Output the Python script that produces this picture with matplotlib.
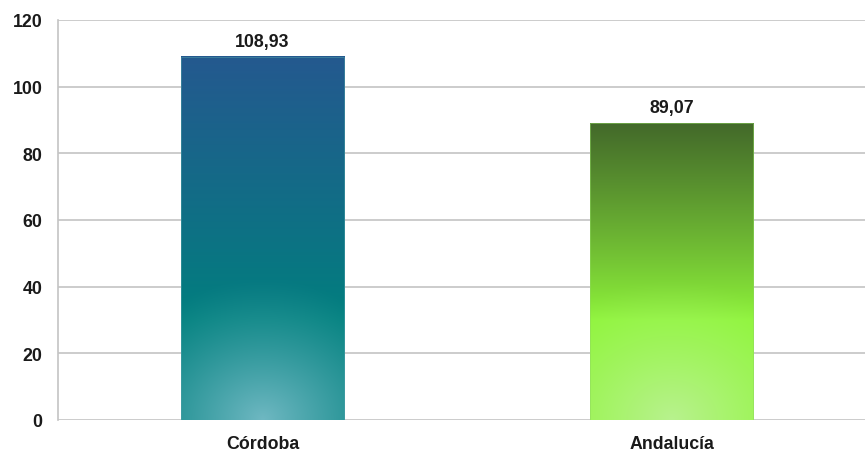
import numpy as np
import matplotlib
matplotlib.use("Agg")
import matplotlib.pyplot as plt
from matplotlib.colors import to_rgb

categories = ["Córdoba", "Andalucía"]
values = [108.93, 89.07]
labels = ["108,93", "89,07"]
yticks = [0, 20, 40, 60, 80, 100, 120]

# gradient colours (top, middle, bottom highlight, edge)
grad = [
    ("#24598f", "#00807e", "#6fb8c2", "#4fa0a8"),
    ("#43692a", "#8ff53a", "#b8f28e", "#8fd860"),
]

plt.rcParams['font.family'] = ['Liberation Sans', 'DejaVu Sans']

W, H = 865, 452
fig = plt.figure(figsize=(W/100, H/100), dpi=100)
ax = fig.add_axes([58/W, 31/H, 818/W, 400/H])
ax.set_xlim(-0.5, 1.5)
ax.set_ylim(0, 120)

for y in yticks:
    ax.axhline(y, color="#c4c4c4", lw=1.2, zorder=1)

bw = 0.4
px_per_x = 409.0
px_per_y = 400/120
for i, (v, g) in enumerate(zip(values, grad)):
    top, mid, light, edge = [np.array(to_rgb(c)) for c in g]
    wpx = int(bw*px_per_x)
    hpx = int(v*px_per_y)
    xs = np.linspace(-wpx/2, wpx/2, wpx)
    ys = np.linspace(0, hpx, hpx)
    X, Y = np.meshgrid(xs, ys)
    t = np.clip((Y - 100) / (hpx - 100), 0, 1)[..., None]
    t = t**0.9
    base = mid*(1-t) + top*t
    r = np.sqrt((X/1.15)**2 + Y**2)
    w = np.clip(1 - r/140.0, 0, 1)[..., None]**1.2
    img = base*(1-w) + light*w
    x0, x1 = i - bw/2, i + bw/2
    ax.imshow(img, extent=(x0, x1, 0, v), origin='lower', aspect='auto',
              interpolation='bilinear', zorder=2)
    ax.add_patch(plt.Rectangle((x0, 0), bw, v, fill=False, edgecolor=edge,
                               lw=0.6, alpha=0.6, zorder=3))
    ax.text(i, v + 2.0, labels[i], ha='center', va='bottom',
            fontsize=12.8, fontweight='bold', color='#1a1a1a', zorder=4)

ax.set_xlim(-0.5, 1.5)
ax.set_ylim(0, 120)
ax.set_xticks(range(len(categories)))
ax.set_xticklabels(categories, fontsize=12.8, fontweight='bold', color='#1a1a1a')
ax.set_yticks(yticks)
ax.set_yticklabels([str(y) for y in yticks], fontsize=12.8, fontweight='bold', color='#1a1a1a')
ax.tick_params(axis='y', length=0, pad=11)
ax.tick_params(axis='x', length=0, pad=11)
for s in ['top', 'right', 'bottom']:
    ax.spines[s].set_visible(False)
ax.spines['left'].set_color('#c4c4c4')
ax.spines['left'].set_linewidth(1.2)

fig.savefig("out.png", dpi=100)
